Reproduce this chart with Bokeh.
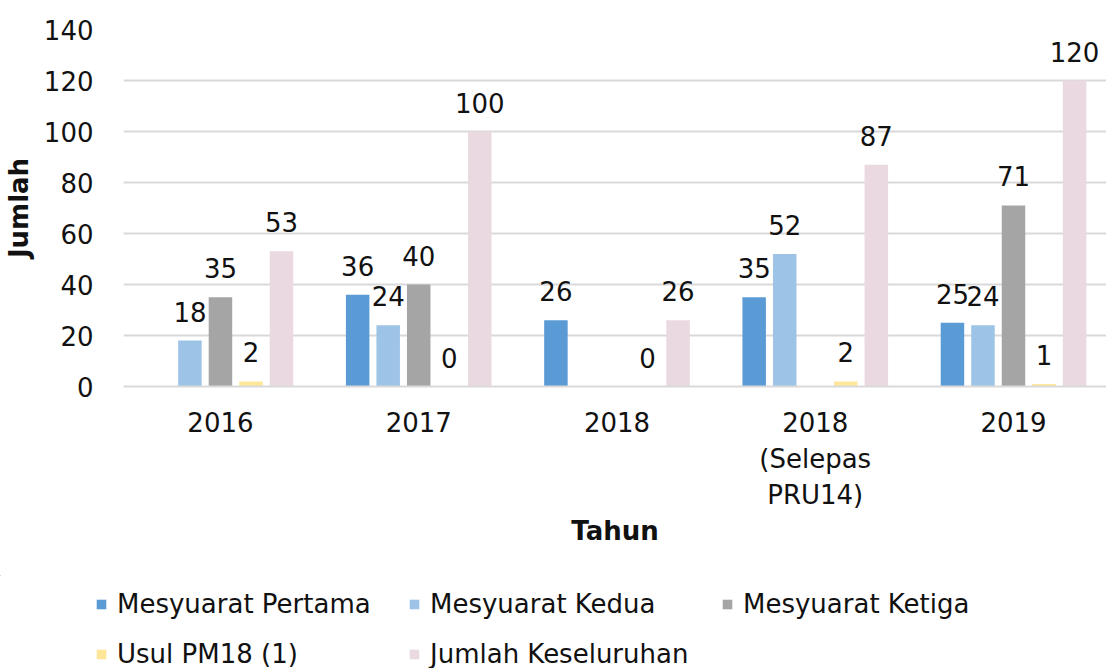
from bokeh.plotting import figure
from bokeh.layouts import column
from bokeh.models import (ColumnDataSource, Range1d, FixedTicker, Legend, LegendItem)
from bokeh.transform import dodge
from bokeh.core.properties import value
from bokeh.embed import file_html
from bokeh.resources import INLINE
import math

# ---- data ----
categories = ["2016", "2017", "2018", "2018\n(Selepas\nPRU14)", "2019"]
nan = float("nan")
pertama = [nan, 36, 26, 35, 25]
kedua = [18, 24, nan, 52, 24]
ketiga = [35, 40, nan, nan, 71]
usul = [2, 0, 0, 2, 1]
jumlah = [53, 100, 26, 87, 120]
series_names = ["Mesyuarat Pertama", "Mesyuarat Kedua", "Mesyuarat Ketiga",
                "Usul PM18 (1)", "Jumlah Keseluruhan"]
series_values = [pertama, kedua, ketiga, usul, jumlah]
colors = ["#5b9bd5", "#9dc3e6", "#a5a5a5", "#ffe699", "#ead9e0"]
y_ticks = [0, 20, 40, 60, 80, 100, 120, 140]

FONT = "DejaVu Sans"
TXT = "#111111"

p = figure(width=1106, height=575, output_backend="svg", toolbar_location=None,
           x_range=Range1d(-0.489, 4.469), y_range=Range1d(0, 140),
           min_border_left=123, min_border_top=29, min_border_right=0,
           min_border_bottom=189)
p.outline_line_color = None
p.background_fill_color = "white"
p.border_fill_color = "white"
try:
    p.frame_align = False
except Exception:
    pass

xs = list(range(len(categories)))
offsets = [-2, -1, 0, 1, 2]
pitch = 0.154
bw = 0.1185

# ---- legend host (its bars sit far outside its visible ranges) ----
lg = figure(width=1106, height=93, output_backend="svg", toolbar_location=None,
            x_axis_location=None, y_axis_location=None,
            x_range=Range1d(1000, 1001), y_range=Range1d(-1000, -999),
            min_border_left=0, min_border_right=0, min_border_top=0, min_border_bottom=0)
lg.outline_line_color = None
lg.xgrid.grid_line_color = None
lg.ygrid.grid_line_color = None
try:
    lg.frame_align = False
except Exception:
    pass

items = []
for name, vals, col, off in zip(series_names, series_values, colors, offsets):
    src = ColumnDataSource(dict(x=xs, y=vals))
    p.vbar(x=dodge("x", off * pitch, range=p.x_range), top="y", width=bw,
           source=src, fill_color=col, line_color=None)
    lr = lg.vbar(x="x", top="y", width=bw, source=src, fill_color=col, line_color=None)
    items.append(LegendItem(label=name, renderers=[lr]))
    lx = [x for x, v in zip(xs, vals) if not (isinstance(v, float) and math.isnan(v))]
    lv = [v for v in vals if not (isinstance(v, float) and math.isnan(v))]
    lsrc = ColumnDataSource(dict(x=lx, y=lv, t=[str(v) for v in lv]))
    p.text(x=dodge("x", off * pitch, range=p.x_range), y="y", text="t", source=lsrc,
           text_align="center", text_baseline="alphabetic", y_offset=-29,
           text_font=value(FONT), text_font_size="26px", text_color=TXT)

# axes
p.xaxis.ticker = FixedTicker(ticks=xs)
p.xaxis.major_label_overrides = {i: c for i, c in zip(xs, categories)}
p.yaxis.ticker = FixedTicker(ticks=y_ticks)
for ax in (p.xaxis[0], p.yaxis[0]):
    ax.major_tick_line_color = None
    ax.minor_tick_line_color = None
    ax.major_label_text_font = FONT
    ax.major_label_text_font_size = "26px"
    ax.major_label_text_color = TXT
    ax.axis_label_text_font = FONT
    ax.axis_label_text_font_size = "26px"
    ax.axis_label_text_font_style = "bold"
    ax.axis_label_text_color = TXT
p.xaxis.axis_line_color = "#d9d9d9"
p.xaxis.axis_line_width = 2
p.yaxis.axis_line_color = None
p.xaxis.axis_label = "Tahun"
p.yaxis.axis_label = "Jumlah"
p.xaxis.major_label_standoff = 15
p.yaxis.major_label_standoff = 24
p.yaxis.axis_label_standoff = 7
p.xaxis.axis_label_standoff = 3

p.xgrid.grid_line_color = None
p.ygrid.grid_line_color = "#d9d9d9"
p.ygrid.grid_line_width = 2

legend = Legend(items=items, ncols=3, orientation="horizontal", location=(95, -1),
                label_text_font=FONT, label_text_font_size="26px",
                label_text_color=TXT, glyph_width=12, glyph_height=12,
                label_standoff=10, label_width=272, label_height=31,
                spacing=19, padding=0, margin=0,
                border_line_color=None, background_fill_alpha=0)
lg.add_layout(legend, "center")

layout = column(p, lg, spacing=0)
open("out.html", "w").write(file_html(layout, INLINE, title="chart"))
